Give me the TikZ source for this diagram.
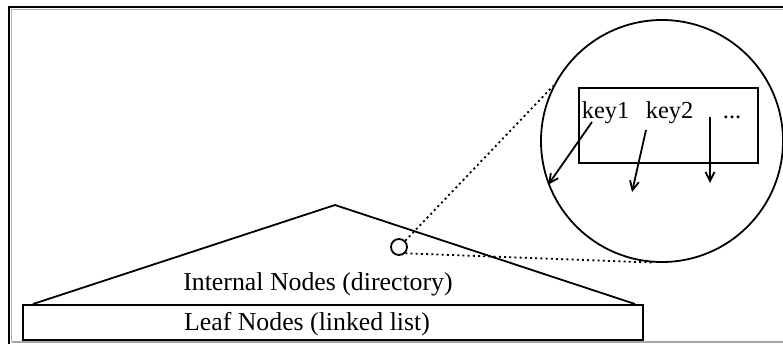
\documentclass[tikz,border=0pt]{standalone}
\usepackage{fontspec}
\setmainfont{Liberation Serif}
\usetikzlibrary{arrows.meta}
\begin{document}
\begin{tikzpicture}[x=0.5pt, y=-0.5pt, line width=0.9pt,
    lbl/.style={inner sep=0, font=\fontsize{12.9}{15}\selectfont},
    keytxt/.style={inner sep=0, anchor=base west, font=\fontsize{12.2}{14}\selectfont},
    dots/.style={dash pattern=on 1pt off 1.6pt},
    ptr/.style={-{Straight Barb[length=4.5pt, width=4.5pt]}}]
  \useasboundingbox (0,0) rectangle (783,344);
  % frame
  \draw [line width=1.2pt] (783,7) -- (9,7) -- (9,344);
  \draw [gray!60, line width=0.5pt] (783,9.5) -- (11.5,9.5) -- (11.5,342);
  \draw [gray!70, line width=0.8pt] (11.5,342) -- (783,342);
  % tree
  \coordinate (apex) at (335,205);
  \coordinate (bl) at (33,304);
  \coordinate (br) at (635,304);
  \draw (bl) -- (apex) -- (br);
  \node [draw, minimum width=310pt, minimum height=17.5pt, inner sep=0] (leafbox) at (333,322.5) {};
  \node [lbl, anchor=base] (internal) at (318,290) {Internal Nodes (directory)};
  \node [lbl, anchor=base] (leaf) at (307,330) {Leaf Nodes (linked list)};
  \node [draw, circle, minimum size=8pt, inner sep=0] (spot) at (399,247) {};
  % zoomed node
  \node [draw, circle, minimum size=121pt, inner sep=0] (zoom) at (662,141) {};
  \node [draw, minimum width=89.5pt, minimum height=37.5pt, inner sep=0] (keys) at (668.5,125.5) {};
  \node [keytxt] (key1) at (581,118) {key1};
  \node [keytxt] (key2) at (645,118) {key2};
  \node [keytxt] (more) at (722,118) {...};
  \draw [dots] (spot.north east) -- (zoom.153);
  \draw [dots] (spot.south east) -- (zoom.266);
  % child pointers
  \coordinate (t1) at (592,122);
  \coordinate (t2) at (646,130);
  \coordinate (t3) at (710,117);
  \coordinate (h2) at (632,192);
  \coordinate (h3) at (710,183);
  \draw [ptr] (t1) -- (zoom.201);
  \draw [ptr] (t2) -- (h2);
  \draw [ptr] (t3) -- (h3);
\end{tikzpicture}
\end{document}
